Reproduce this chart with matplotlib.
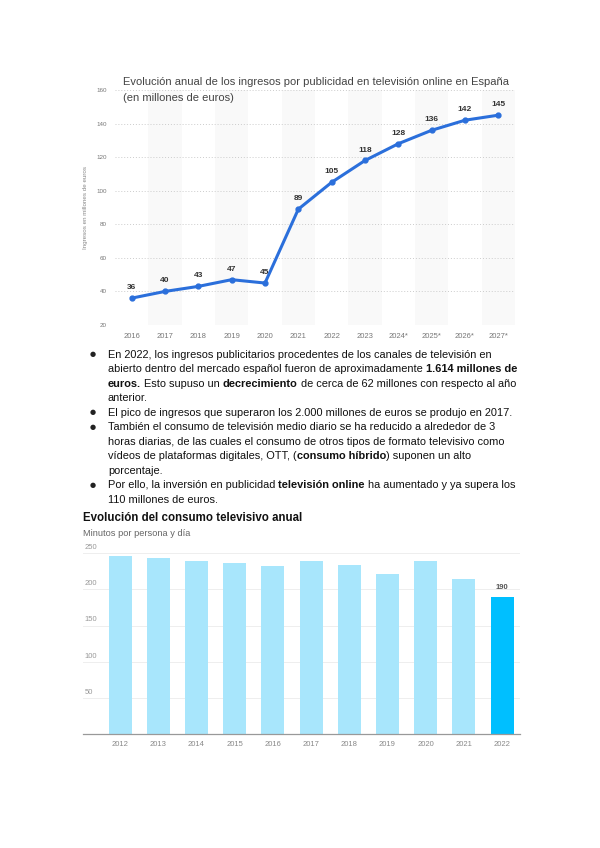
import matplotlib
matplotlib.use("Agg")
import matplotlib.pyplot as plt
import matplotlib.transforms as mtransforms

# data: online TV ad revenue (Spain, millions EUR)
years_ad = ["2016", "2017", "2018", "2019", "2020", "2021", "2022", "2023",
            "2024*", "2025*", "2026*", "2027*"]
ad_revenue = [36, 40, 43, 47, 45, 89, 105, 118, 128, 136, 142, 145]
ad_yticks = [20, 40, 60, 80, 100, 120, 140, 160]

# data: daily TV consumption (minutes per person and day)
years_tv = ["2012", "2013", "2014", "2015", "2016", "2017", "2018", "2019",
            "2020", "2021", "2022"]
tv_minutes = [246, 244, 240, 237, 233, 240, 234, 222, 240, 214, 190]
tv_yticks = [50, 100, 150, 200, 250]

# bullet text: (text, bold, space before)
bullets = [
    [[("En 2022, los ingresos publicitarios procedentes de los canales de televisión en", False, False)],
     [("abierto dentro del mercado español fueron de aproximadamente", False, False),
      ("1.614 millones de", True, True)],
     [("euros.", True, False), ("Esto supuso un", False, True), ("decrecimiento", True, True),
      ("de cerca de 62 millones con respecto al año", False, True)],
     [("anterior.", False, False)]],
    [[("El pico de ingresos que superaron los 2.000 millones de euros se produjo en 2017.", False, False)]],
    [[("También el consumo de televisión medio diario se ha reducido a alrededor de 3", False, False)],
     [("horas diarias, de las cuales el consumo de otros tipos de formato televisivo como", False, False)],
     [("vídeos de plataformas digitales, OTT, (", False, False), ("consumo híbrido", True, False),
      (") suponen un alto", False, False)],
     [("porcentaje.", False, False)]],
    [[("Por ello, la inversión en publicidad", False, False), ("televisión online", True, True),
      ("ha aumentado y ya supera los", False, True)],
     [("110 millones de euros.", False, False)]],
]

W, H = 600, 848
fig = plt.figure(figsize=(6, 8.48), dpi=100)
fig.patch.set_facecolor("white")
FONT = "Liberation Sans"


def fx(px):
    return px / W


def fy(py):
    return 1 - py / H


# ---------------- chart 1 ----------------
ax1 = fig.add_axes([fx(115), fy(325), fx(515) - fx(115), fy(90) - fy(325)])
xs = list(range(len(years_ad)))
for i in xs:
    if i % 2 == 1:
        ax1.axvspan(i - 0.5, i + 0.5, color="#f9f9f9", zorder=0, lw=0)
ax1.plot(xs, ad_revenue, color="#2b6fdb", lw=2.2, marker="o", ms=3.5, zorder=3)
for i, v in zip(xs, ad_revenue):
    ax1.annotate(str(v), (i, v), xytext=(0, 5), textcoords="offset points",
                 ha="center", va="bottom", fontsize=6, color="#333333",
                 family=FONT, fontweight="bold", zorder=4)
ax1.set_xlim(-0.5, len(years_ad) - 0.5)
ax1.set_ylim(20, 160)
ax1.set_yticks(ad_yticks)
ax1.set_xticks(xs)
ax1.set_xticklabels(years_ad)
ax1.grid(axis="y", color="#cccccc", ls=(0, (1, 2)), lw=0.7, zorder=1)
ax1.set_axisbelow(True)
for s in ax1.spines.values():
    s.set_visible(False)
ax1.tick_params(length=0, labelsize=5.5, labelcolor="#777777", pad=6)
for lab in ax1.get_xticklabels() + ax1.get_yticklabels():
    lab.set_family(FONT)
for lab in ax1.get_yticklabels():
    lab.set_fontsize(4.5)
ax1.set_ylabel("Ingresos en millones de euros", fontsize=4.5, color="#888888",
               family=FONT, labelpad=6)
fig.text(fx(123), fy(82), "Evolución anual de los ingresos por publicidad en televisión online en España",
         fontsize=8.0, color="#444444", family=FONT, va="center", ha="left")
fig.text(fx(123), fy(98), "(en millones de euros)",
         fontsize=8.0, color="#444444", family=FONT, va="center", ha="left")

# ---------------- bullet text ----------------
renderer = fig.canvas.get_renderer()
BSIZE = 7.9


def width_of(s, bold):
    t = fig.text(0, 0, s, fontsize=BSIZE, family=FONT,
                 fontweight="bold" if bold else "normal")
    w = t.get_window_extent(renderer).width
    t.remove()
    return w


space_w = width_of("x x", False) - width_of("xx", False)
line_y = 354
for bullet in bullets:
    fig.text(fx(93), fy(line_y), "●", fontsize=5, color="#222222",
             family="DejaVu Sans", va="center", ha="center")
    for line in bullet:
        x = 108
        for txt, bold, sp in line:
            if sp:
                x += space_w
            t = fig.text(fx(x), fy(line_y + 3.8), txt, fontsize=BSIZE, family=FONT,
                         fontweight="bold" if bold else "normal",
                         color="#111111", va="baseline", ha="left")
            x += t.get_window_extent(renderer).width
        line_y += 14.5

# ---------------- chart 2 ----------------
ax2 = fig.add_axes([fx(83), fy(734), fx(520) - fx(83), fy(549.7) - fy(734)])
xb = list(range(len(years_tv)))
colors = ["#a8e6fc"] * (len(years_tv) - 1) + ["#00bfff"]
ax2.bar(xb, tv_minutes, width=0.6, color=colors, zorder=2)
ax2.set_xlim(-0.97, len(years_tv) - 0.53)
ax2.set_ylim(0, 255)
ax2.set_yticks(tv_yticks)
ax2.set_yticklabels([])
ax2.grid(axis="y", color="#eeeeee", lw=0.7, zorder=0)
ax2.set_axisbelow(True)
for k in ["top", "right", "left"]:
    ax2.spines[k].set_visible(False)
ax2.spines["bottom"].set_color("#999999")
ax2.spines["bottom"].set_linewidth(0.9)
ax2.set_xticks(xb)
ax2.set_xticklabels(years_tv)
ax2.tick_params(axis="y", length=0)
ax2.tick_params(axis="x", length=0, labelsize=5.5, labelcolor="#888888", pad=5)
for lab in ax2.get_xticklabels():
    lab.set_family(FONT)
trans = mtransforms.blended_transform_factory(ax2.transAxes, ax2.transData)
for v in tv_yticks:
    ax2.text(0.003, v + 3, str(v), transform=trans, fontsize=5.5, color="#999999",
             family=FONT, ha="left", va="bottom")
ax2.annotate(str(tv_minutes[-1]), (xb[-1], tv_minutes[-1]), xytext=(0, 4),
             textcoords="offset points", ha="center", va="bottom", fontsize=5.5,
             color="#555555", family=FONT, fontweight="bold")
fig.text(fx(83), fy(518), "Evolución del consumo televisivo anual", fontsize=8.3,
         fontweight="bold", color="#111111", family=FONT, va="center", ha="left")
fig.text(fx(83), fy(533), "Minutos por persona y día", fontsize=6.7, color="#666666",
         family=FONT, va="center", ha="left")

fig.savefig("out.png", dpi=100, facecolor="white")
